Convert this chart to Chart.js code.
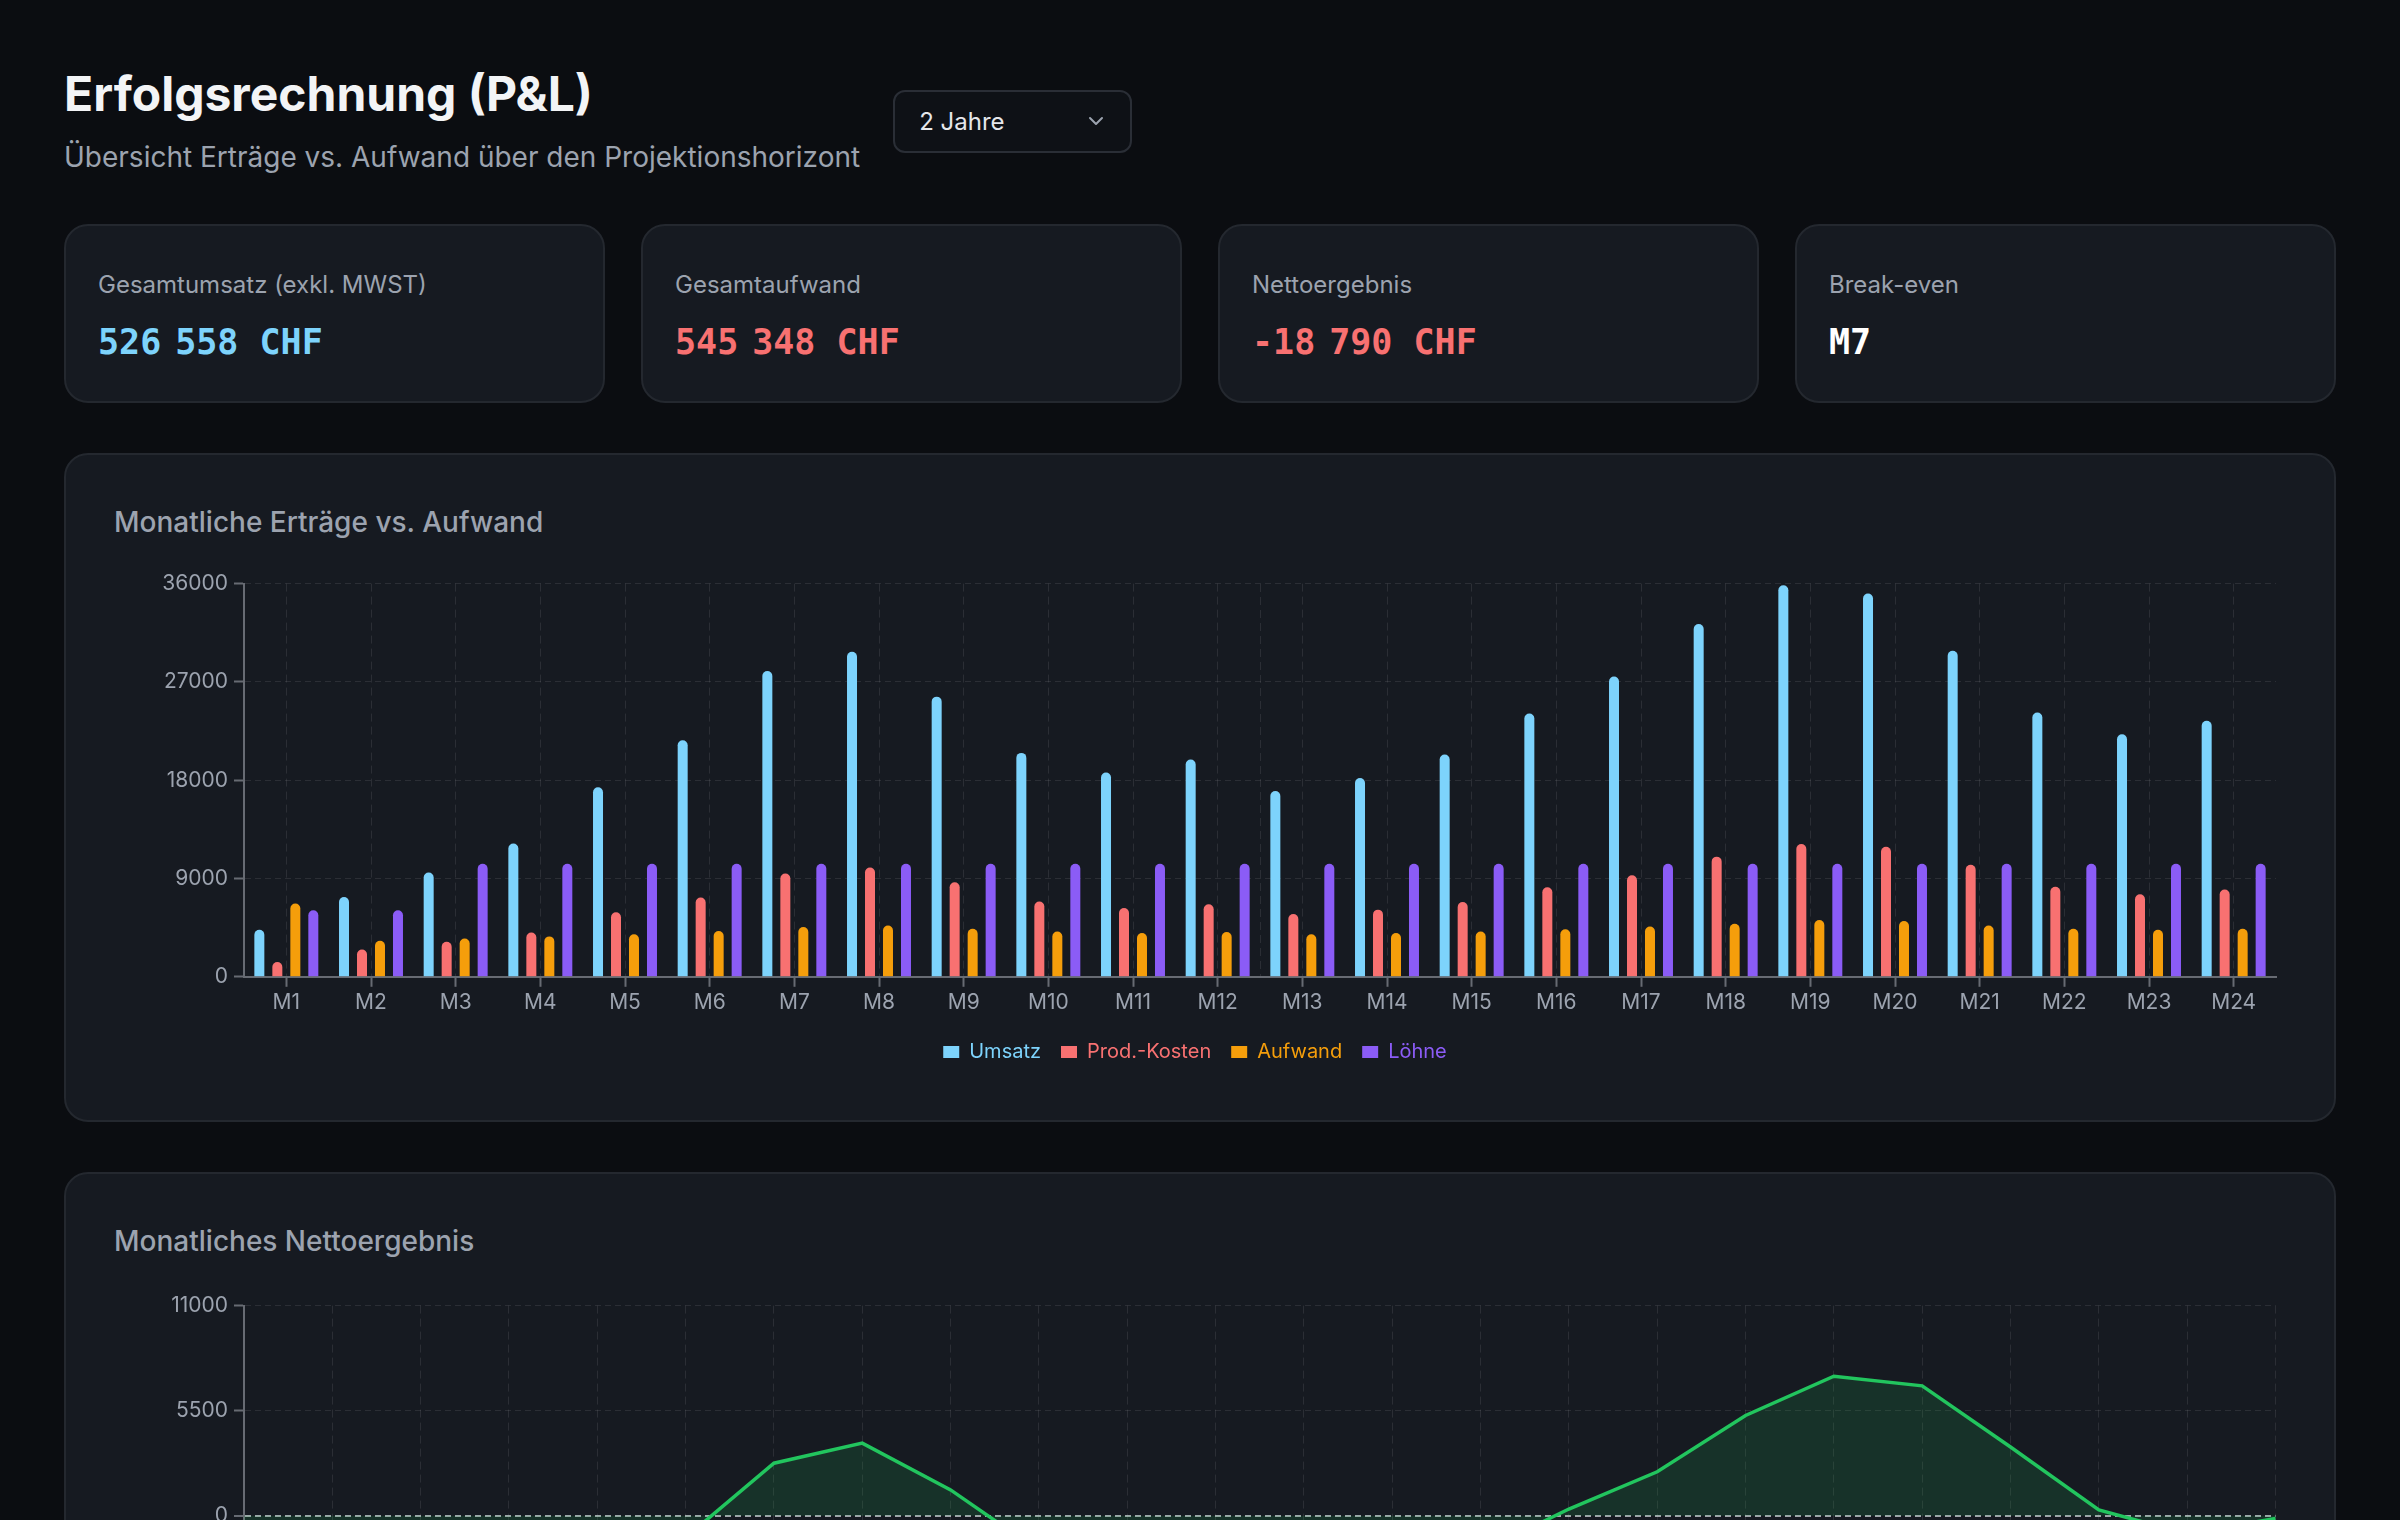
<!DOCTYPE html>
<html lang="de">
<head>
<meta charset="utf-8">
<title>Erfolgsrechnung (P&L)</title>
<script src="https://cdn.jsdelivr.net/npm/chart.js@4.4.1/dist/chart.umd.min.js"></script>
<style>
	* { box-sizing: border-box; }
	html, body { margin: 0; background: #0b0d11; }
	body {
		font-family: Inter, "Noto Sans", sans-serif;
		color: #e5e7eb;
		padding: 65px 64px 64px 64px;
	}
	.header { display: flex; align-items: center; gap: 33px; }
	.header h1 { margin: 0; font-size: 48px; font-weight: 700; line-height: 1.2; color: #f3f4f6; }
	.header p { margin: 13px 0 0 0; font-size: 28px; line-height: 1.5; color: #9ca3af; }
	.select {
		width: 239px; height: 63px;
		border: 2px solid #2a2e36; border-radius: 12px;
		background: #0e1116;
		padding: 0 24px 0 24px;
		display: flex; align-items: center; justify-content: space-between;
		font-size: 24px; color: #e5e7eb;
	}
	.kpis { display: grid; grid-template-columns: repeat(4, 1fr); gap: 36px; margin-top: 46px; }
	.card {
		background: #161a21;
		border: 2px solid #24282f;
		border-radius: 24px;
	}
	.kpi { padding: 41px 32px 38px 32px; }
	.kpi .label { font-size: 24px; line-height: 1.5; color: #9ca3af; }
	.kpi .value {
		margin-top: 18px;
		font-family: "DejaVu Sans Mono", monospace;
		font-weight: 700; font-size: 35px; line-height: 1.2;
	}
	.kpi .value .ns { display: inline-block; width: 14px; }
	.chartcard { margin-top: 50px; padding: 48px 48px 48px 48px; }
	.chartcard h3 { margin: 0 0 26px 0; font-size: 28px; font-weight: 500; line-height: 1.4; color: #9ca3af; }
	.chartcard.bars h3 { margin-bottom: 23px; }
	.box { position: relative; height: 507px; }
	.box.net { height: 480px; margin-right: -15px; }
</style>
</head>
<body>

<div class="header">
	<div>
		<h1>Erfolgsrechnung (P&amp;L)</h1>
		<p>Übersicht Erträge vs. Aufwand über den Projektionshorizont</p>
	</div>
	<div class="select">
		<span>2 Jahre</span>
		<svg width="20" height="20" viewBox="0 0 20 20"><path d="M4 7 L10 13 L16 7" fill="none" stroke="#9ca3af" stroke-width="2" stroke-linecap="round" stroke-linejoin="round"/></svg>
	</div>
</div>

<div class="kpis">
	<div class="card kpi">
		<div class="label">Gesamtumsatz (exkl. MWST)</div>
		<div class="value" style="color:#7dd3fc">526<span class="ns"></span>558 CHF</div>
	</div>
	<div class="card kpi">
		<div class="label">Gesamtaufwand</div>
		<div class="value" style="color:#f87171">545<span class="ns"></span>348 CHF</div>
	</div>
	<div class="card kpi">
		<div class="label">Nettoergebnis</div>
		<div class="value" style="color:#f87171">-18<span class="ns"></span>790 CHF</div>
	</div>
	<div class="card kpi">
		<div class="label">Break-even</div>
		<div class="value" style="color:#ffffff">M7</div>
	</div>
</div>

<div class="card chartcard bars">
	<h3>Monatliche Erträge vs. Aufwand</h3>
	<div class="box"><canvas id="barChart"></canvas></div>
</div>

<div class="card chartcard">
	<h3>Monatliches Nettoergebnis</h3>
	<div class="box net"><canvas id="netChart"></canvas></div>
</div>

<script>
let months = ['M1', 'M2', 'M3', 'M4', 'M5', 'M6', 'M7', 'M8', 'M9', 'M10', 'M11', 'M12',
	'M13', 'M14', 'M15', 'M16', 'M17', 'M18', 'M19', 'M20', 'M21', 'M22', 'M23', 'M24'];

let umsatz = [4300, 7300, 9550, 12200, 17350, 21650, 28000, 29750, 25650, 20500, 18700, 19900,
	17000, 18200, 20350, 24100, 27500, 32300, 35850, 35100, 29850, 24200, 22200, 23450];
let prodKosten = [1350, 2500, 3200, 4050, 5900, 7250, 9450, 10000, 8650, 6900, 6300, 6650,
	5750, 6150, 6850, 8200, 9300, 11000, 12150, 11900, 10250, 8250, 7550, 8000];
let aufwand = [6700, 3300, 3500, 3700, 3900, 4200, 4550, 4700, 4400, 4150, 4000, 4100,
	3900, 4000, 4150, 4350, 4600, 4850, 5200, 5100, 4700, 4400, 4300, 4400];
let loehne = [6100, 6100, 10350, 10350, 10350, 10350, 10350, 10350, 10350, 10350, 10350, 10350,
	10350, 10350, 10350, 10350, 10350, 10350, 10350, 10350, 10350, 10350, 10350, 10350];

let netto = [-10800, -5550, -8400, -6800, -3700, -1150, 2750, 3800, 1350, -1850, -2900, -2200,
	-3900, -3200, -1900, 350, 2300, 5250, 7300, 6800, 3600, 300, -950, -150];

let barTicks = [0, 36000, 9000];     // min, max, step
let netTicks = [-11000, 11000, 5500];

let gridColor = 'rgba(255, 255, 255, 0.09)';
let zeroColor = 'rgba(209, 213, 219, 0.75)';
let axisColor = '#676b73';
let tickColor = '#9ca3af';

Chart.defaults.font.family = 'Inter, "Noto Sans", sans-serif';
Chart.defaults.color = tickColor;

function tickValue(c) {
	return c.tick ? c.tick.value : null;
}

// legend text takes the colour of its series
function coloredLabels(chart) {
	let items = Chart.defaults.plugins.legend.labels.generateLabels(chart);
	items.forEach(function (item) { item.fontColor = item.fillStyle; });
	return items;
}

let barCtx = document.getElementById('barChart').getContext('2d');

let barChart = new Chart(barCtx, {
	type: 'bar',
	data: {
		labels: months,
		datasets: [
		{ label: 'Umsatz', data: umsatz, backgroundColor: '#7dd3fc' },
		{ label: 'Prod.-Kosten', data: prodKosten, backgroundColor: '#f87171' },
		{ label: 'Aufwand', data: aufwand, backgroundColor: '#f59e0b' },
		{ label: 'Löhne', data: loehne, backgroundColor: '#8b5cf6' }
		]
	},
	options: {
		responsive: true,
		maintainAspectRatio: false,
		animation: false,
		layout: { padding: { right: 10 } },
		datasets: {
			bar: {
				categoryPercentage: 0.85,
				barPercentage: 0.6,
				maxBarThickness: 10,
				borderRadius: 5
			}
		},
		plugins: {
			legend: {
				position: 'bottom',
				labels: {
					boxWidth: 16,
					boxHeight: 12,
					padding: 20,
					font: { size: 20 },
					generateLabels: coloredLabels
				}
			},
			tooltip: { enabled: false }
		},
		scales: {
			x: {
				afterFit: function (scale) { scale.height += 4; },
				grid: { color: gridColor, offset: false, tickLength: 10, tickColor: axisColor, tickWidth: 2 },
				border: { color: axisColor, width: 2, dash: [8, 5] },
				ticks: { color: tickColor, padding: 3, font: { size: 21 } }
			},
			y: {
				min: barTicks[0],
				max: barTicks[1],
				afterFit: function (scale) { scale.width = 130; },
				grid: { color: gridColor, tickLength: 10, tickColor: axisColor, tickWidth: 2 },
				border: { color: axisColor, width: 2, dash: [6, 4] },
				ticks: {
					stepSize: barTicks[2],
					color: tickColor,
					padding: 6,
					font: { size: 21 },
					callback: function (v) { return String(v); }
				}
			},
			// only there to draw the dashed right edge of the plot
			edge: {
				type: 'linear',
				position: 'top',
				min: 0,
				max: 1,
				grid: {
					color: function (c) { return tickValue(c) === 1 ? gridColor : 'rgba(0,0,0,0)'; },
					drawTicks: false
				},
				border: { display: false, dash: [8, 5] },
				ticks: { display: false, stepSize: 1 }
			}
		}
	}
});

let netCtx = document.getElementById('netChart').getContext('2d');

let netChart = new Chart(netCtx, {
	type: 'line',
	data: {
		labels: months,
		datasets: [ {
			label: 'Nettoergebnis',
			data: netto,
			borderColor: '#22c55e',
			borderWidth: 3.5,
			backgroundColor: 'rgba(34, 197, 94, 0.14)',
			fill: 'origin',
			pointRadius: 0,
			tension: 0
		}]
	},
	options: {
		responsive: true,
		maintainAspectRatio: false,
		animation: false,
		layout: { padding: { right: 10 } },
		plugins: {
			legend: { display: false },
			tooltip: { enabled: false }
		},
		scales: {
			x: {
				grid: { color: gridColor, tickLength: 10, tickColor: axisColor, tickWidth: 2 },
				border: { color: axisColor, width: 2, dash: [8, 5] },
				ticks: { color: tickColor, padding: 3, font: { size: 21 } }
			},
			y: {
				min: netTicks[0],
				max: netTicks[1],
				afterFit: function (scale) { scale.width = 130; },
				grid: {
					color: function (c) { return tickValue(c) === 0 ? zeroColor : gridColor; },
					lineWidth: function (c) { return tickValue(c) === 0 ? 2 : 1; },
					tickLength: 10,
					tickColor: axisColor,
					tickWidth: 2
				},
				border: { color: axisColor, width: 2, dash: [6, 4] },
				ticks: {
					stepSize: netTicks[2],
					color: tickColor,
					padding: 6,
					font: { size: 21 },
					callback: function (v) { return String(v); }
				}
			}
		}
	}
});
</script>
</body>
</html>
